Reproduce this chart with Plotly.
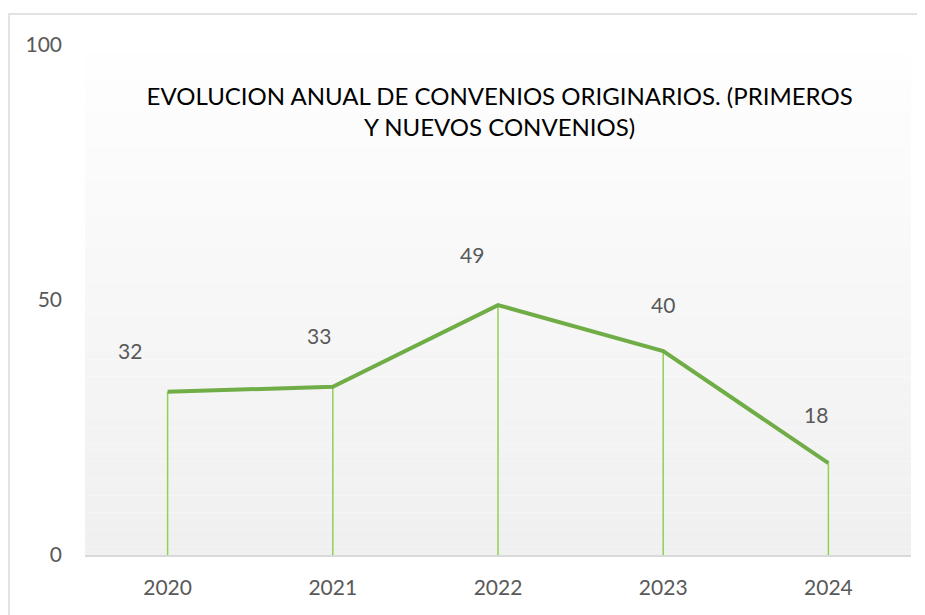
import plotly.graph_objects as go

# Datos
anios = ["2020", "2021", "2022", "2023", "2024"]
convenios = [32, 33, 49, 40, 18]
desplaz_x = [-38, -14, -26, 0, -12]  # desplazamiento de etiquetas (px)
desplaz_y = [41, 51, 51, 47, 49]

titulo = "EVOLUCION ANUAL DE CONVENIOS ORIGINARIOS. (PRIMEROS<br>Y NUEVOS CONVENIOS)"
fuente = "Lato, Open Sans, sans-serif"

fig = go.Figure()

# linea principal con lineas de caida hasta el eje
fig.add_trace(go.Scatter(
    x=anios, y=convenios, mode="lines",
    line=dict(color="#70ad47", width=4),
    error_y=dict(type="data", symmetric=False, array=[0] * len(convenios),
                 arrayminus=convenios, color="#92d050", thickness=1.5, width=0),
    hoverinfo="x+y", showlegend=False,
))

# etiquetas de datos (eje categorico -> posicion por indice)
for i, (v, dx, dy) in enumerate(zip(convenios, desplaz_x, desplaz_y)):
    fig.add_annotation(x=i, y=v, text=str(v), showarrow=False,
                       xshift=dx, yshift=dy,
                       font=dict(size=21, color="#595959", family=fuente))

# fondo degradado del area de trazado
n = 60
for i in range(n):
    g = int(255 - (255 - 240) * i / (n - 1))
    fig.add_shape(type="rect", xref="x domain", yref="y domain",
                  x0=0, x1=1, y0=1 - (i + 1) / n, y1=1 - i / n,
                  fillcolor=f"rgb({g},{g},{g})", line_width=0, layer="below")

# borde del grafico
fig.add_shape(type="rect", xref="paper", yref="paper",
              x0=-0.092, x1=1.012, y0=-0.2, y1=1.061,
              line=dict(color="#d9d9d9", width=1.5), fillcolor="rgba(0,0,0,0)")

fig.update_layout(
    width=925, height=615,
    margin=dict(l=77, r=22, t=37, b=68),
    paper_bgcolor="white", plot_bgcolor="white",
    font=dict(family=fuente, color="#595959", size=21),
    title=dict(text=titulo, x=0.502, xref="paper", y=0.843, yref="container",
               xanchor="center", yanchor="middle",
               font=dict(size=24, color="black", family=fuente)),
    xaxis=dict(type="category", range=[-0.5, 4.5], showgrid=False, showline=True,
               linecolor="#d9d9d9", linewidth=1.5,
               ticks="", ticklabelstandoff=13, zeroline=False),
    yaxis=dict(range=[0, 100], dtick=50, showgrid=False, zeroline=False,
               showline=False, ticks="", ticklabelstandoff=22),
)

fig.write_html("out.html")
